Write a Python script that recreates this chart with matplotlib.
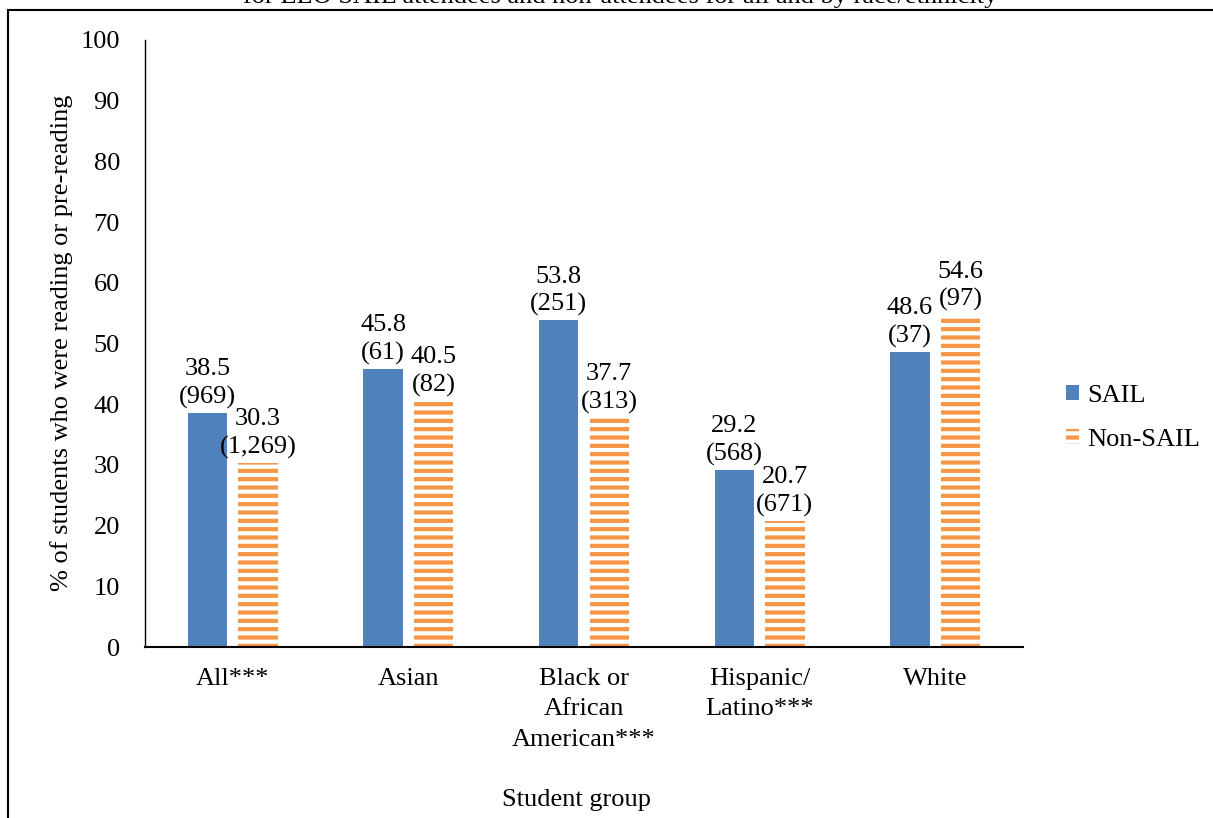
import matplotlib
matplotlib.use("Agg")
import matplotlib.pyplot as plt
from matplotlib.patches import Patch, Rectangle
import numpy as np

categories = ["All***", "Asian", "Black or\nAfrican\nAmerican***", "Hispanic/\nLatino***", "White"]
sail_values = [38.5, 45.8, 53.8, 29.2, 48.6]
sail_n = ["969", "61", "251", "568", "37"]
nonsail_values = [30.3, 40.5, 37.7, 20.7, 54.6]
nonsail_n = ["1,269", "82", "313", "671", "97"]
yticks = [0, 10, 20, 30, 40, 50, 60, 70, 80, 90, 100]

BLUE = "#4F81BD"
ORANGE = "#F79646"

plt.rcParams["font.family"] = ["Liberation Serif", "DejaVu Serif"]
plt.rcParams["hatch.linewidth"] = 3.0

W, H = 1213, 818
fig = plt.figure(figsize=(W / 100, H / 100), dpi=100)
ax = fig.add_axes([145 / W, (H - 647) / H, (1023 - 145) / W, (647 - 40) / H])

x = np.arange(len(categories))
bw = 0.225
off = 0.144
ax.bar(x - off, sail_values, bw, color=BLUE, edgecolor="none", label="SAIL")
ax.bar(x + off, nonsail_values, bw, facecolor="white", edgecolor=ORANGE,
       hatch="--", linewidth=0, label="Non-SAIL")

fs = 19
ls_val = 1.32
ls_tick = 1.5
for xi, v, n in zip(x - off, sail_values, sail_n):
    ax.annotate(f"{v}\n({n})", (xi, v), xytext=(0, 3), textcoords="offset points",
                ha="center", va="bottom", fontsize=fs, linespacing=ls_val)
for xi, v, n in zip(x + off, nonsail_values, nonsail_n):
    ax.annotate(f"{v}\n({n})", (xi, v), xytext=(0, 3), textcoords="offset points",
                ha="center", va="bottom", fontsize=fs, linespacing=ls_val)

ax.set_xlim(-0.5, len(categories) - 0.5)
ax.set_ylim(0, 100)
ax.set_yticks(yticks)
ax.set_yticklabels([str(t) for t in yticks], fontsize=fs)
ax.set_xticks(x)
ax.set_xticklabels(categories, fontsize=fs, linespacing=ls_tick)
ax.tick_params(axis="y", length=0, pad=18)
ax.tick_params(axis="x", length=0, pad=15)
for s in ["top", "right"]:
    ax.spines[s].set_visible(False)
ax.spines["left"].set_linewidth(1.0)
ax.spines["bottom"].set_linewidth(1.5)

fig.text(62 / W, 1 - 343 / H, "% of students who were reading or pre-reading",
         rotation=90, ha="center", va="center", fontsize=fs)
fig.text(576 / W, 1 - 800 / H, "Student group", ha="center", va="center", fontsize=fs)
fig.text(620 / W, 1 - 3 / H, "for ELO SAIL attendees and non-attendees for all and by race/ethnicity",
         ha="center", va="baseline", fontsize=fs)

# frame
fig.patches.append(Rectangle((8 / W, -0.05), 1.2, 1 - 10 / H + 0.05, transform=fig.transFigure,
                             fill=False, edgecolor="black", linewidth=1.5))

handles = [Patch(facecolor=BLUE, edgecolor="none", label="SAIL"),
           Patch(facecolor="white", edgecolor=ORANGE, hatch="--", linewidth=0, label="Non-SAIL")]
fig.legend(handles=handles, loc="center left", bbox_to_anchor=(1066 / W, 1 - 418 / H),
           frameon=False, fontsize=fs, handlelength=0.5, handleheight=0.5,
           handletextpad=0.3, labelspacing=0.85, borderpad=0, borderaxespad=0)

fig.savefig("out.png", dpi=100)
